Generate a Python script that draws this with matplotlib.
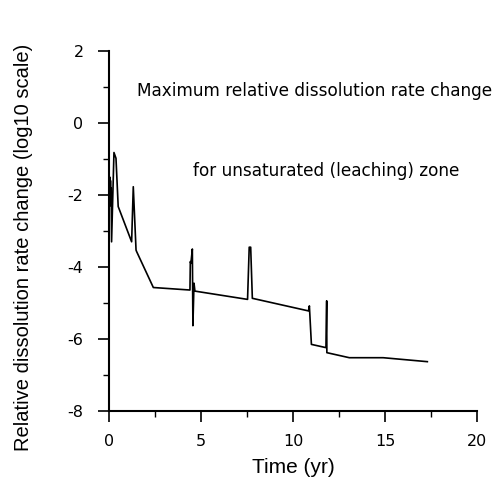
import matplotlib
matplotlib.use("Agg")
import matplotlib.pyplot as plt
from matplotlib.ticker import MultipleLocator

plt.rcParams['font.family'] = ['Liberation Sans', 'DejaVu Sans']
plt.rcParams['axes.unicode_minus'] = False

time_yr = [0.0, 0.0, 0.02, 0.04, 0.06, 0.08, 0.10, 0.12, 0.14, 0.27, 0.38, 0.5,
           1.23, 1.32, 1.47, 1.5, 2.41, 4.4, 4.42, 4.45, 4.53, 4.56, 4.62, 4.67,
           7.53, 7.62, 7.70, 7.79, 10.84, 10.89, 11.0, 11.79, 11.83, 11.84,
           13.06, 14.9, 17.3]
log_rate = [1.3, -1.6, -2.2, -1.5, -2.3, -1.6, -2.2, -1.8, -3.3, -0.82, -0.98, -2.32,
            -3.3, -1.77, -3.53, -3.57, -4.57, -4.64, -3.85, -3.9, -3.5, -5.63, -4.45, -4.67,
            -4.9, -3.45, -3.45, -4.87, -5.22, -5.08, -6.15, -6.24, -4.94, -6.38,
            -6.52, -6.52, -6.63]

title_line1 = "Maximum relative dissolution rate change"
title_line2 = "for unsaturated (leaching) zone"
x_label = "Time (yr)"
y_label = "Relative dissolution rate change (log10 scale)"

fig = plt.figure(figsize=(4.97, 4.78), dpi=100)
ax = fig.add_axes([0.2193, 0.1402, 0.7405, 0.7531])
ax.plot(time_yr, log_rate, color='black', lw=1.2)

ax.set_xlim(0, 20)
ax.set_ylim(-8, 2)
ax.xaxis.set_major_locator(MultipleLocator(5))
ax.xaxis.set_minor_locator(MultipleLocator(2.5))
ax.yaxis.set_major_locator(MultipleLocator(2))
ax.yaxis.set_minor_locator(MultipleLocator(1))
for s in ['top', 'right']:
    ax.spines[s].set_visible(False)
for s in ['left', 'bottom']:
    ax.spines[s].set_linewidth(1.5)
ax.tick_params(which='major', direction='out', length=7.8, width=1.2)
ax.tick_params(which='minor', direction='out', length=4.5, width=1.0)
ax.tick_params(axis='x', which='major', pad=9)
ax.tick_params(axis='y', which='major', pad=10.5)
for lab in ax.get_xticklabels() + ax.get_yticklabels():
    lab.set_fontfamily('DejaVu Sans')
    lab.set_fontsize(11.5)

ax.text(1.52, 0.75, title_line1, fontsize=12.2, family='DejaVu Sans', ha='left', va='baseline')
ax.text(4.58, -1.47, title_line2, fontsize=12.2, family='DejaVu Sans', ha='left', va='baseline')

ax.set_xlabel(x_label, fontsize=15, va='baseline')
ax.xaxis.set_label_coords(0.5, -0.172)
ax.set_ylabel(y_label, fontsize=14.5, va='center')
ax.yaxis.set_label_coords(-0.2315, 0.4556)

fig.savefig("out.png", dpi=100)
